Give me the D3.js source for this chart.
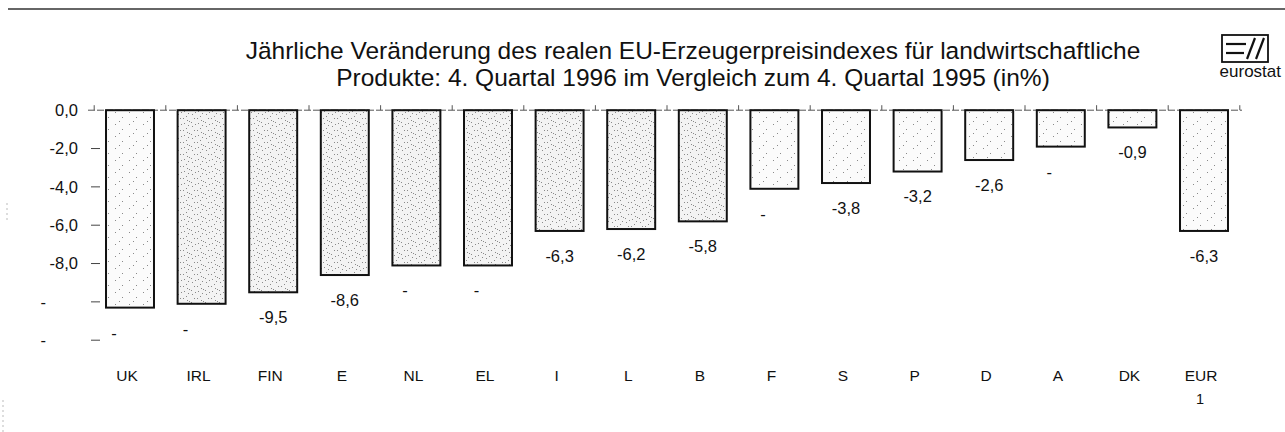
<!DOCTYPE html>
<html>
<head>
<meta charset="utf-8">
<script src="https://cdn.jsdelivr.net/npm/d3@7/dist/d3.min.js"></script>
<style>
  html, body { margin: 0; padding: 0; background: #ffffff; }
  svg { display: block; }
  text { font-family: "Liberation Sans", Arial, Helvetica, sans-serif; fill: #111; }
</style>
</head>
<body>
<svg id="chart" width="1285" height="432"></svg>
<script>
// ---- data ----
const categories = ["UK", "IRL", "FIN", "E", "NL", "EL", "I", "L", "B", "F", "S", "P", "D", "A", "DK", "EUR"];
const values = [-10.3, -10.1, -9.5, -8.6, -8.1, -8.1, -6.3, -6.2, -5.8, -4.1, -3.8, -3.2, -2.6, -1.9, -0.9, -6.3];
// value labels whose digits are legible in the original (others show only the minus sign)
const labelLegible = [false, false, true, true, false, false, true, true, true, false, true, true, true, false, true, true];
const tickValues = [0, -2, -4, -6, -8, -10, -12];
const tickLegible = [true, true, true, true, true, false, false];
const titleLines = [
  "Jährliche Veränderung des realen EU-Erzeugerpreisindexes für landwirtschaftliche",
  "Produkte: 4. Quartal 1996 im Vergleich zum 4. Quartal 1995 (in%)"
];
const footnoteCategory = "EUR";
const footnoteMark = "1";

// ---- style (not data) ----
const denseStipple = new Set(["IRL", "FIN", "E", "NL", "EL", "I", "L", "B"]);

// ---- setup ----
const svg = d3.select("#chart");
const fmt = v => d3.format(".1f")(v).replace("−", "-").replace(".", ",");

const x = d3.scaleBand().domain(categories).range([94.2, 1239.8]).paddingInner(0.33).paddingOuter(0.165);
const y = d3.scaleLinear().domain([0, -12]).range([110.2, 340.2]);

// stipple patterns for bars
const defs = svg.append("defs");
function makePattern(id, dots, bg) {
  const p = defs.append("pattern").attr("id", id).attr("patternUnits", "userSpaceOnUse")
    .attr("width", 14).attr("height", 12);
  p.append("rect").attr("width", 14).attr("height", 12).attr("fill", bg);
  dots.forEach(([cx, cy]) =>
    p.append("rect").attr("x", cx).attr("y", cy).attr("width", 1).attr("height", 1).attr("fill", "#8a8a8a"));
}
makePattern("stippleDense", [[2,3],[7,1],[10,6],[4,8],[12,10],[6,5],[1,10],[9,2],[13,4],[5,0]], "#f3f3f3");
makePattern("stippleLight", [[3,4],[10,9],[7,1]], "#fbfbfb");

// top rule
svg.append("line").attr("x1", 8).attr("x2", 1285).attr("y1", 9).attr("y2", 9)
  .attr("stroke", "#333").attr("stroke-width", 1.5);

// title
svg.append("g").selectAll("text").data(titleLines).join("text")
  .attr("x", 693).attr("y", (d, i) => 59 + i * 27)
  .attr("text-anchor", "middle").attr("font-size", 24.5).text(d => d);

// eurostat logo
const logo = svg.append("g");
logo.append("rect").attr("x", 1222).attr("y", 35).attr("width", 46).attr("height", 27)
  .attr("fill", "none").attr("stroke", "#111").attr("stroke-width", 1.8);
logo.append("line").attr("x1", 1226).attr("x2", 1246).attr("y1", 44).attr("y2", 44).attr("stroke", "#111").attr("stroke-width", 2.2);
logo.append("line").attr("x1", 1226).attr("x2", 1244).attr("y1", 53).attr("y2", 53).attr("stroke", "#111").attr("stroke-width", 2.2);
logo.append("line").attr("x1", 1247).attr("x2", 1255).attr("y1", 59).attr("y2", 38).attr("stroke", "#111").attr("stroke-width", 2.2);
logo.append("line").attr("x1", 1256).attr("x2", 1264).attr("y1", 59).attr("y2", 38).attr("stroke", "#111").attr("stroke-width", 2.2);
logo.append("text").attr("x", 1281).attr("y", 77).attr("text-anchor", "end").attr("font-size", 17).text("eurostat");

// zero line with category separator ticks
const y0 = y(0);
svg.append("line").attr("x1", 88).attr("x2", 1242).attr("y1", y0).attr("y2", y0)
  .attr("stroke", "#555").attr("stroke-width", 1).attr("stroke-dasharray", "7,2");
const step = x.step();
const seps = d3.range(categories.length + 1).map(i => x.range()[0] + i * step);
svg.append("g").selectAll("line").data(seps).join("line")
  .attr("x1", d => d).attr("x2", d => d).attr("y1", y0).attr("y2", y0 - 5)
  .attr("stroke", "#555").attr("stroke-width", 1);

// y ticks and labels
const fs = 16.5;
const yt = svg.append("g");
yt.selectAll("line").data(tickValues.filter(v => v !== 0)).join("line")
  .attr("x1", 91).attr("x2", 100).attr("y1", d => y(d)).attr("y2", d => y(d))
  .attr("stroke", "#444").attr("stroke-width", 1);
tickValues.forEach((v, i) => {
  const full = fmt(v);
  if (tickLegible[i]) {
    yt.append("text").attr("x", 78).attr("y", y(v)).attr("dy", "0.36em")
      .attr("text-anchor", "end").attr("font-size", fs).text(full);
  } else {
    const tmp = yt.append("text").attr("font-size", fs).text(full);
    const w = tmp.node().getComputedTextLength();
    tmp.remove();
    yt.append("text").attr("x", 78 - w).attr("y", y(v)).attr("dy", "0.36em")
      .attr("text-anchor", "start").attr("font-size", fs).text("-");
  }
});

// bars
svg.append("g").selectAll("rect").data(categories).join("rect")
  .attr("x", d => x(d)).attr("width", x.bandwidth())
  .attr("y", y0).attr("height", (d, i) => y(values[i]) - y0)
  .attr("fill", d => denseStipple.has(d) ? "url(#stippleDense)" : "url(#stippleLight)")
  .attr("stroke", "#111").attr("stroke-width", 2);

// value labels
const vl = svg.append("g");
categories.forEach((c, i) => {
  const cx = x(c) + x.bandwidth() / 2;
  const ly = y(values[i]) + 25;
  const full = fmt(values[i]);
  if (labelLegible[i]) {
    vl.append("text").attr("x", cx).attr("y", ly).attr("dy", "0.36em")
      .attr("text-anchor", "middle").attr("font-size", fs).text(full);
  } else {
    const tmp = vl.append("text").attr("font-size", fs).text(full);
    const w = tmp.node().getComputedTextLength();
    tmp.remove();
    vl.append("text").attr("x", cx - w / 2).attr("y", ly).attr("dy", "0.36em")
      .attr("text-anchor", "start").attr("font-size", fs).text("-");
  }
});

// category labels
svg.append("g").selectAll("text").data(categories).join("text")
  .attr("x", d => x(d) + x.bandwidth() / 2 - 3).attr("y", 375).attr("dy", "0.36em")
  .attr("text-anchor", "middle").attr("font-size", 15.5).text(d => d);
svg.append("text").attr("x", x(footnoteCategory) + x.bandwidth() / 2 - 4).attr("y", 399).attr("dy", "0.36em")
  .attr("text-anchor", "middle").attr("font-size", 14.5).text(footnoteMark);

// scan artefacts: faint dotted margin marks
svg.append("line").attr("x1", 7).attr("x2", 7).attr("y1", 203).attr("y2", 223)
  .attr("stroke", "#bbb").attr("stroke-dasharray", "2,3");
svg.append("line").attr("x1", 3).attr("x2", 3).attr("y1", 400).attr("y2", 432)
  .attr("stroke", "#bbb").attr("stroke-dasharray", "2,3");
</script>
</body>
</html>
